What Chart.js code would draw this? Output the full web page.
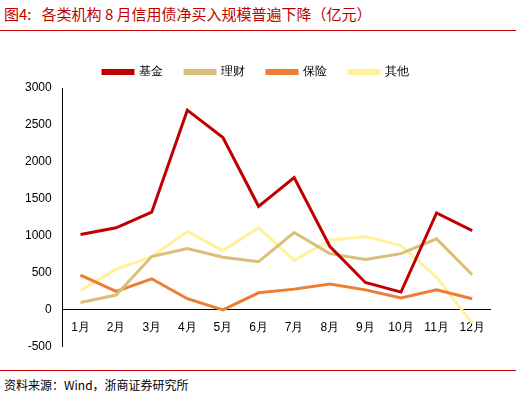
<!DOCTYPE html>
<html><head><meta charset="utf-8">
<script src="https://cdn.jsdelivr.net/npm/chart.js@4"></script>
<style>
body{margin:0;width:520px;height:401px;background:#fff;font-family:"Noto Sans CJK SC","Noto Sans",sans-serif;position:relative;overflow:hidden}
#title{position:absolute;left:4px;top:3px;font-size:15px;color:#C00000}
#tl{position:absolute;left:0;top:30px;width:516px;border-top:1.5px solid #C00000}
#bl{position:absolute;left:0;top:370px;width:516px;border-top:1px solid #C00000}
#src{position:absolute;left:4px;top:376px;font-size:12px;color:#000}
#box{position:absolute;left:22px;top:44px;width:478px;height:313px}
</style></head><body>
<div id="title">图4:&nbsp;&nbsp;&nbsp;各类机构 8 月信用债净买入规模普遍下降（亿元）</div>
<div id="tl"></div>
<div id="box"><canvas id="c"></canvas></div>
<div id="bl"></div>
<div id="src">资料来源：Wind，浙商证券研究所</div>
<script>
var months=['1月','2月','3月','4月','5月','6月','7月','8月','9月','10月','11月','12月'];
var fund=[1020,1110,1320,2700,2330,1400,1790,860,370,240,1310,1070];
var wealth=[100,200,720,830,710,650,1045,760,680,760,960,475];
var insur=[470,250,420,150,0,230,280,350,270,160,270,150];
var other=[260,550,720,1060,800,1110,670,940,990,870,440,-180];
new Chart(document.getElementById('c'),{type:'line',
data:{labels:months,datasets:[
{label:'基金',data:fund,borderColor:'#C00000',backgroundColor:'#C00000'},
{label:'理财',data:wealth,borderColor:'#D9BF77',backgroundColor:'#D9BF77'},
{label:'保险',data:insur,borderColor:'#ED7D31',backgroundColor:'#ED7D31'},
{label:'其他',data:other,borderColor:'#FFF29A',backgroundColor:'#FFF29A'}]},
options:{responsive:true,maintainAspectRatio:false,animation:false,
elements:{point:{radius:0},line:{borderWidth:3,tension:0}},
layout:{padding:{right:10}},
plugins:{legend:{labels:{boxWidth:30,boxHeight:3,font:{size:12},color:'#000',padding:22}},tooltip:{enabled:false}},
scales:{
x:{offset:true,position:{y:0},grid:{display:false},border:{color:'#000'},ticks:{color:'#000',font:{size:12}}},
y:{min:-500,max:3000,grid:{display:false},border:{color:'#000'},ticks:{stepSize:500,color:'#000',font:{size:12},callback:function(v){return v;}}}}}});
</script></body></html>
